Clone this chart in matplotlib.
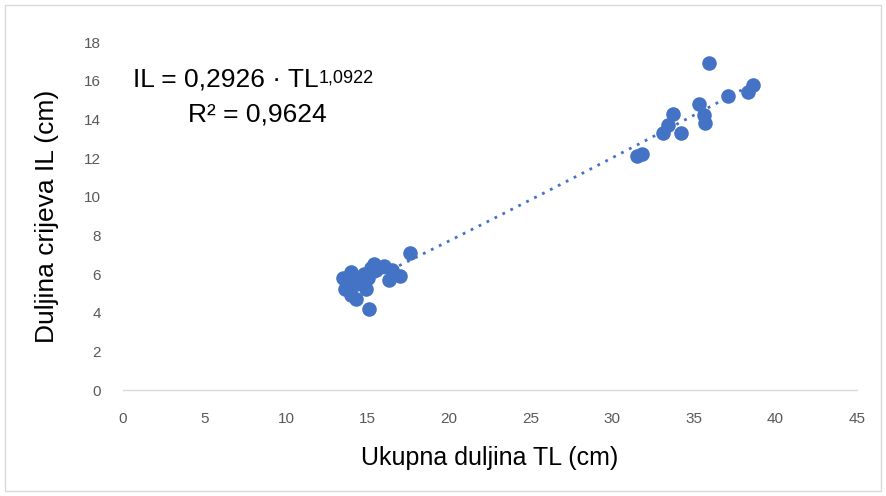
import numpy as np
import matplotlib.pyplot as plt
from matplotlib.patches import Rectangle

plt.rcParams['font.family'] = ['Liberation Sans', 'DejaVu Sans']

# total length TL (cm) and intestine length IL (cm)
tl = [13.5, 13.6, 14.0, 14.0, 14.3, 14.3, 14.6, 14.8, 14.9, 15.1,
      15.2, 15.4, 15.5, 16.0, 16.3, 16.5, 17.0, 17.6, 14.1, 15.0,
      31.5, 31.8, 33.1, 33.4, 33.7, 34.2, 35.3, 35.6, 35.7, 35.9,
      37.1, 38.3, 38.6]
il = [5.8, 5.2, 6.1, 4.9, 4.7, 5.5, 5.6, 6.0, 5.2, 4.2,
      6.3, 6.5, 6.2, 6.4, 5.7, 6.2, 5.9, 7.1, 5.7, 5.8,
      12.1, 12.2, 13.3, 13.7, 14.3, 13.3, 14.8, 14.2, 13.8, 16.9,
      15.2, 15.4, 15.8]
fit_a = 0.2926
fit_b = 1.0922

blue = '#4472C4'
grey = '#595959'

fig = plt.figure(figsize=(8.86, 4.96), dpi=100)
fig.patches.append(Rectangle((0.006, 0.01), 0.988, 0.98, transform=fig.transFigure,
                             fill=False, edgecolor='#D9D9D9', linewidth=1))
ax = fig.add_axes([0.1388, 0.2137, 0.8285, 0.7016])

ax.scatter(tl, il, s=110, color=blue, zorder=3, linewidths=0)

# power trendline
xs = np.linspace(min(tl), max(tl), 200)
ax.plot(xs, fit_a * xs ** fit_b, linestyle=(0, (1, 2.2)), color=blue,
        linewidth=2, zorder=2)

ax.set_xlim(0, 45)
ax.set_ylim(0, 18)
ax.set_xticks(range(0, 46, 5))
ax.set_yticks(range(0, 19, 2))
for s in ['top', 'right', 'left']:
    ax.spines[s].set_visible(False)
ax.spines['bottom'].set_color('#D9D9D9')
ax.spines['bottom'].set_linewidth(1)
ax.tick_params(axis='x', length=0, labelsize=11, labelcolor=grey, pad=16)
ax.tick_params(axis='y', length=0, labelsize=11, labelcolor=grey, pad=16)

ax.set_xlabel('Ukupna duljina TL (cm)', fontsize=18, labelpad=14)
ax.set_ylabel('Duljina crijeva IL (cm)', fontsize=19, labelpad=18)

# trendline equation, superscript as a separate smaller text
eq = ax.text(0.6, 16.05, 'IL = 0,2926 · TL', fontsize=19, va='center', ha='left')
ax.annotate('1,0922', xy=(1, 1), xycoords=eq, xytext=(0, -1),
            textcoords='offset points', fontsize=13, va='top', ha='left')
ax.text(4.0, 14.25, 'R² = 0,9624', fontsize=19, va='center', ha='left')

fig.savefig('out.png', dpi=100)
